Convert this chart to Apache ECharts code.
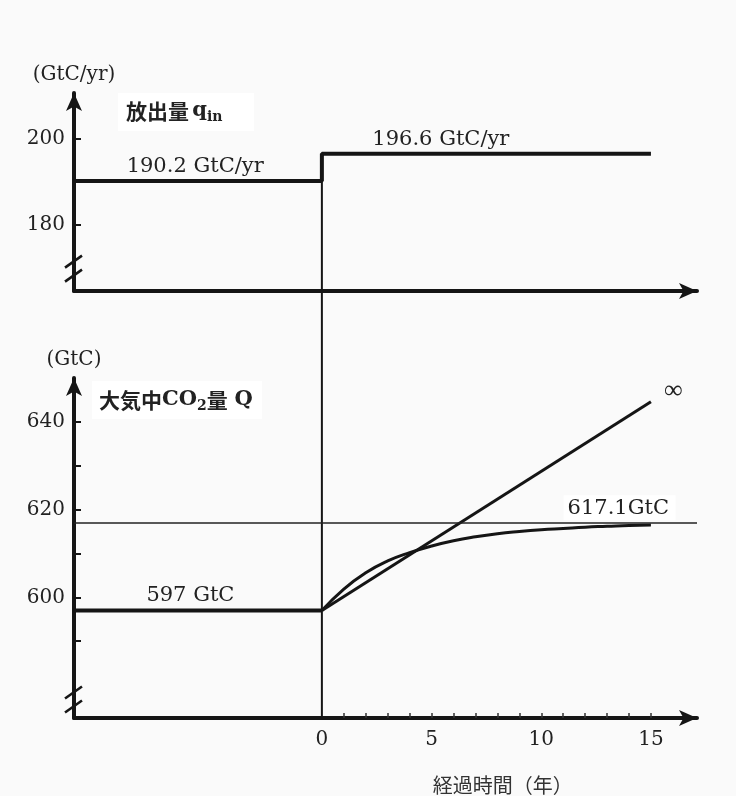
<!DOCTYPE html>
<html>
<head>
<meta charset="utf-8">
<script src="https://cdn.jsdelivr.net/npm/echarts@6/dist/echarts.min.js"></script>
<style>
  html, body { margin: 0; background: #fafafa; }
  #chart { width: 736px; height: 796px; }
</style>
</head>
<body>
<div id="chart"></div>
<script>
  // 横軸 (経過時間, 年)
  const xStart = -11.3
  const xEnd = 17.1
  const xTickLabels = [0, 5, 10, 15]
  const xMinorTicks = [1, 2, 3, 4, 5, 6, 7, 8, 9, 10, 11, 12, 13, 14, 15]

  // 放出量 q_in
  const emitYears = [xStart, 0, 0, 15]
  const emitValues = [190.2, 190.2, 196.6, 196.6]
  const emitTickLabels = [180, 200]

  // 大気中CO2量 Q
  const qBeforeYears = [xStart, 0]
  const qBeforeValues = [597, 597]
  const qYears = [0, 1, 2, 3, 4, 5, 6, 7, 8, 9, 10, 11, 12, 13, 14, 15]
  const qCurve = [597, 601.9, 605.6, 608.3, 610.2, 611.7, 612.9, 613.8, 614.5, 615.0, 615.4, 615.7, 616.0, 616.2, 616.4, 616.5]
  const qLinearYears = [0, 15]
  const qLinearValues = [597, 644.6]
  const qEquilibrium = 617.1
  const qTickLabels = [600, 620, 640]
  const qTicks = [590, 600, 610, 620, 630, 640]

  const serif = 'DejaVu Serif'
  const jp = 'Noto Sans CJK JP'
  const ink = '#151515'
  const textColor = '#222'

  const zip = (xs, ys) => xs.map((x, i) => [x, ys[i]])

  const chart = echarts.init(document.getElementById('chart'))

  const baseX = {
    type: 'value',
    min: xStart,
    max: xEnd,
    splitLine: { show: false },
    axisLine: {
      onZero: false,
      symbol: ['none', 'arrow'],
      symbolSize: [12, 18],
      lineStyle: { color: ink, width: 4 }
    }
  }
  const baseY = {
    type: 'value',
    splitLine: { show: false },
    axisLine: {
      onZero: false,
      symbol: ['none', 'arrow'],
      symbolSize: [12, 18],
      lineStyle: { color: ink, width: 4 }
    },
    nameLocation: 'end',
    nameGap: 8,
    nameTextStyle: { fontFamily: serif, fontSize: 20, color: textColor, align: 'center' },
    axisLabel: { fontFamily: serif, fontSize: 20, color: textColor, margin: 9 }
  }

  chart.setOption({
    backgroundColor: '#fafafa',
    animation: false,
    grid: [
      { left: 74, right: 39, top: 93, bottom: 505 },
      { left: 74, right: 39, top: 378, bottom: 78 }
    ],
    xAxis: [
      Object.assign({}, baseX, {
        gridIndex: 0,
        axisTick: { show: false },
        axisLabel: { show: false }
      }),
      Object.assign({}, baseX, {
        gridIndex: 1,
        axisTick: {
          customValues: xMinorTicks,
          inside: true,
          length: 5,
          lineStyle: { color: '#333', width: 1.5 }
        },
        axisLabel: {
          customValues: xTickLabels,
          fontFamily: serif,
          fontSize: 20,
          color: textColor,
          margin: 12
        }
      })
    ],
    yAxis: [
      Object.assign({}, baseY, {
        gridIndex: 0,
        min: 164.5,
        max: 210.8,
        name: '(GtC/yr)',
        axisTick: { customValues: emitTickLabels, inside: true, length: 7, lineStyle: { color: ink, width: 2 } },
        axisLabel: Object.assign({}, baseY.axisLabel, { customValues: emitTickLabels })
      }),
      Object.assign({}, baseY, {
        gridIndex: 1,
        min: 572.5,
        max: 650,
        name: '(GtC)',
        axisTick: { customValues: qTicks, inside: true, length: 7, lineStyle: { color: ink, width: 2 } },
        axisLabel: Object.assign({}, baseY.axisLabel, { customValues: qTickLabels })
      })
    ],
    series: [
      {
        name: '放出量',
        type: 'line',
        xAxisIndex: 0,
        yAxisIndex: 0,
        symbol: 'none',
        data: zip(emitYears, emitValues),
        lineStyle: { color: ink, width: 4 }
      },
      {
        name: 'Q before',
        type: 'line',
        xAxisIndex: 1,
        yAxisIndex: 1,
        symbol: 'none',
        data: zip(qBeforeYears, qBeforeValues),
        lineStyle: { color: ink, width: 4 }
      },
      {
        name: 'Q curve',
        type: 'line',
        xAxisIndex: 1,
        yAxisIndex: 1,
        symbol: 'none',
        smooth: true,
        data: zip(qYears, qCurve),
        lineStyle: { color: ink, width: 3 },
        markLine: {
          silent: true,
          symbol: 'none',
          label: { show: false },
          lineStyle: { color: '#222', width: 1.5, type: 'solid' },
          data: [{ yAxis: qEquilibrium }]
        }
      },
      {
        name: 'Q linear',
        type: 'line',
        xAxisIndex: 1,
        yAxisIndex: 1,
        symbol: 'none',
        data: zip(qLinearYears, qLinearValues),
        lineStyle: { color: ink, width: 3 }
      }
    ]
  })

  // 位置はスケールから取る
  const p0 = (v) => chart.convertToPixel({ gridIndex: 0 }, v)
  const p1 = (v) => chart.convertToPixel({ gridIndex: 1 }, v)

  const top0 = p0([0, emitValues[2]])
  const bot0 = p1([0, 572.5])

  const txt = (x, y, text, size, extra) => ({
    type: 'text',
    x: x,
    y: y,
    style: Object.assign({
      text: text,
      fontFamily: serif,
      fontSize: size,
      fill: textColor,
      verticalAlign: 'middle'
    }, extra || {})
  })

  const breakMark = (cx, cy) => [
    { type: 'rect', shape: { x: cx - 4, y: cy - 3, width: 8, height: 6 }, style: { fill: '#fafafa' } },
    { type: 'line', shape: { x1: cx - 9, y1: cy - 2, x2: cx + 8, y2: cy - 14 }, style: { stroke: ink, lineWidth: 2.5 } },
    { type: 'line', shape: { x1: cx - 9, y1: cy + 12, x2: cx + 8, y2: cy + 0 }, style: { stroke: ink, lineWidth: 2.5 } }
  ]

  const brTop = p0([xStart, 169.5])
  const brBot = p1([xStart, 576.5])
  const lbl190 = p0([-8.9, emitValues[0]])
  const lbl196 = p0([2.3, emitValues[2]])
  const lbl597 = p1([-8.0, qBeforeValues[0]])
  const lbl617 = p1([11.2, qEquilibrium])
  const lblInf = p1([15.6, 647])
  const xName = p1([8.25, 572.5])

  const titleRich = {
    a: { fontFamily: jp, fontSize: 21, fontWeight: 'bold', fill: textColor },
    q: { fontFamily: serif, fontSize: 21, fontWeight: 'bold', fill: textColor },
    s: { fontFamily: serif, fontSize: 14, fontWeight: 'bold', fill: textColor, padding: [13, 0, 0, 0] }
  }

  chart.setOption({
    graphic: [
      {
        type: 'line',
        shape: { x1: top0[0], y1: top0[1], x2: bot0[0], y2: bot0[1] },
        style: { stroke: ink, lineWidth: 2 },
        z: 1
      },
      ...breakMark(brTop[0], brTop[1]),
      ...breakMark(brBot[0], brBot[1]),
      {
        type: 'rect',
        shape: { x: 118, y: 93, width: 136, height: 38 },
        style: { fill: '#ffffff' }
      },
      {
        type: 'text',
        x: 126,
        y: 111,
        style: { rich: titleRich, text: '{a|放出量} {q|q}{s|in}', verticalAlign: 'middle' }
      },
      {
        type: 'rect',
        shape: { x: 92, y: 381, width: 170, height: 38 },
        style: { fill: '#ffffff' }
      },
      {
        type: 'text',
        x: 99,
        y: 400,
        style: { rich: titleRich, text: '{a|大気中}{q|CO}{s|2}{a|量}  {q|Q}', verticalAlign: 'middle' }
      },
      txt(lbl190[0], lbl190[1] - 15, '190.2 GtC/yr', 21),
      txt(lbl196[0], lbl196[1] - 14, '196.6 GtC/yr', 21),
      txt(lbl597[0], lbl597[1] - 15, '597 GtC', 21),
      {
        type: 'rect',
        shape: { x: lbl617[0] - 4, y: lbl617[1] - 27, width: 112, height: 25 },
        style: { fill: '#ffffff' }
      },
      txt(lbl617[0], lbl617[1] - 14, '617.1GtC', 21),
      txt(lblInf[0], lblInf[1], '∞', 26, { fontFamily: 'Liberation Serif' }),
      txt(xName[0], xName[1] + 67, '経過時間（年）', 20, { fontFamily: jp, align: 'center', fill: '#333' })
    ]
  })
</script>
</body>
</html>
